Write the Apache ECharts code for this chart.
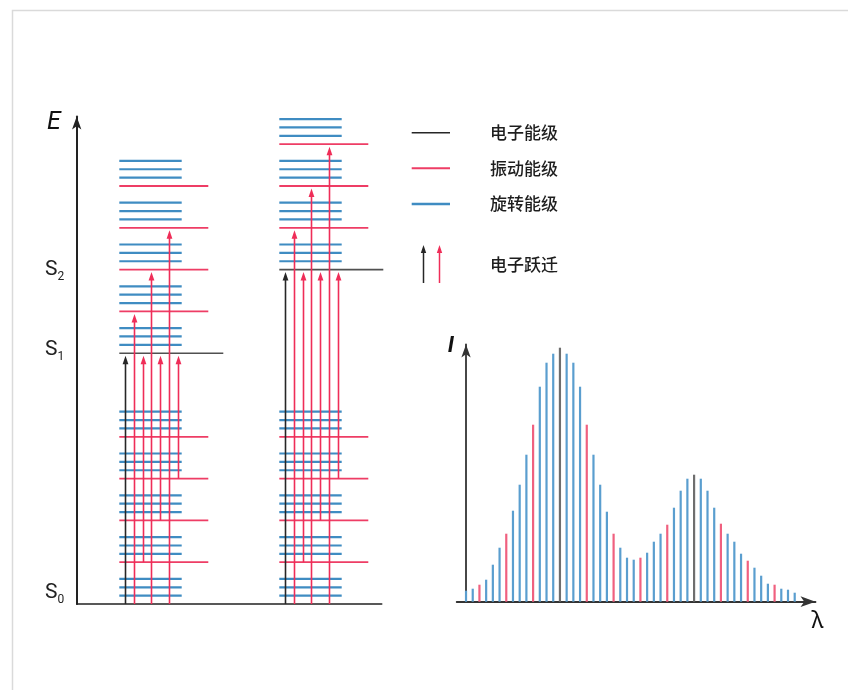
<!DOCTYPE html>
<html>
<head>
<meta charset="utf-8">
<script src="https://cdn.jsdelivr.net/npm/echarts@6/dist/echarts.min.js"></script>
<style>
  html, body { margin: 0; padding: 0; background: #ffffff; }
  #chart { width: 848px; height: 690px; }
</style>
</head>
<body>
<div id="chart"></div>
<script>
// ---- Energy-level diagram (energies in units of one rotational spacing above S0) ----
const stateNames = ['S0', 'S1', 'S2'];
const stateEnergies = [0, 30, 40];

// left column: S0 manifold and S1 manifold
const leftElectronicLevels = [30];
const leftVibrationalLevels = [5, 10, 15, 20, 35, 40, 45, 50];
const leftRotationalLevels = [1, 2, 3, 6, 7, 8, 11, 12, 13, 16, 17, 18, 21, 22, 23,
  31, 32, 33, 36, 37, 38, 41, 42, 43, 46, 47, 48, 51, 52, 53];
const leftTransitions = [[0, 30], [0, 35], [5, 30], [0, 40], [10, 30], [0, 45], [15, 30]];

// right column: S0 manifold and S2 manifold
const rightElectronicLevels = [40];
const rightVibrationalLevels = [5, 10, 15, 20, 45, 50, 55];
const rightRotationalLevels = [1, 2, 3, 6, 7, 8, 11, 12, 13, 16, 17, 18, 21, 22, 23,
  41, 42, 43, 46, 47, 48, 51, 52, 53, 56, 57, 58];
const rightTransitions = [[0, 40], [0, 45], [5, 40], [0, 50], [10, 40], [0, 55], [15, 40]];

// ---- Absorption band: relative intensity of each line ----
const spectrumIntensity = [11, 13, 17, 22, 37, 54, 68, 91, 117, 147, 177, 215, 239, 248, 254,
  248, 239, 215, 177, 147, 117, 90, 68, 54, 44, 42, 44, 49, 60, 68, 77, 94, 111, 123, 127,
  123, 111, 94, 78, 68, 60, 48, 41, 34, 26, 18, 17, 13, 12, 9];
// R = rotational line, V = vibrational line, E = electronic line
const spectrumLineType = ['R', 'R', 'V', 'R', 'R', 'R', 'V', 'R', 'R', 'R', 'V', 'R', 'R', 'R', 'E',
  'R', 'R', 'R', 'V', 'R', 'R', 'R', 'V', 'R', 'R', 'R', 'V', 'R', 'R', 'R', 'V', 'R', 'R', 'R', 'E',
  'R', 'R', 'R', 'V', 'R', 'R', 'R', 'V', 'R', 'R', 'R', 'V', 'R', 'R', 'R'];

const legendLabels = ['电子能级', '振动能级', '旋转能级', '电子跃迁'];

// ---- layout & style ----
const COLUMN_START = [42.6, 202.6];                 // x-axis units of the level diagram
const LEVEL_LENGTH = { electronic: 104, vibrational: 89, rotational: 62.4 };
const ARROW_OFFSET = [6, 14.7, 23.4, 32.1, 40.8, 49.5, 58.2];
const LABEL_NUDGE = [-11, -3, 0];
const COLOR = {
  electronic: '#505050',
  vibrational: '#ee3d65',
  rotational: '#3f8cc2',
  arrowBlack: '#262626',
  arrowRed: '#ef2d58',
  axis: '#222222'
};
const SPECTRUM_COLOR = { R: '#5a9ecf', V: '#f0607f', E: '#6e6e6e' };

function levelData(col, levels) {
  return levels.map(e => [col, e]);
}

function levelRenderer(kind, color, width) {
  return function (params, api) {
    const col = api.value(0);
    const e = api.value(1);
    const a = api.coord([COLUMN_START[col], e]);
    const b = api.coord([COLUMN_START[col] + LEVEL_LENGTH[kind], e]);
    return {
      type: 'line',
      shape: { x1: a[0], y1: a[1], x2: b[0], y2: b[1] },
      style: { stroke: color, lineWidth: width }
    };
  };
}

function transitionData(col, list, electronic) {
  return list.map((t, i) => [col, t[0], t[1], i, (t[0] === 0 && electronic.indexOf(t[1]) >= 0) ? 1 : 0]);
}

function renderTransition(params, api) {
  const col = api.value(0);
  const from = api.value(1);
  const to = api.value(2);
  const slot = api.value(3);
  const color = api.value(4) === 1 ? COLOR.arrowBlack : COLOR.arrowRed;
  const x = COLUMN_START[col] + ARROW_OFFSET[slot];
  const p0 = api.coord([x, from]);
  const p1 = api.coord([x, to]);
  const px = Math.round(p0[0]) + 0.5;
  const tip = p1[1] + 2.5;
  return {
    type: 'group',
    children: [
      { type: 'line', shape: { x1: px, y1: p0[1], x2: px, y2: tip + 6 },
        style: { stroke: color, lineWidth: 1.6 } },
      { type: 'polygon', shape: { points: [[px, tip], [px - 2.9, tip + 8.5], [px + 2.9, tip + 8.5]] },
        style: { fill: color } }
    ]
  };
}

function renderStateLabel(params, api) {
  const e = api.value(0);
  const idx = api.value(1);
  const p = api.coord([0, e]);
  const y = p[1] + LABEL_NUDGE[idx];
  return {
    type: 'group',
    children: [
      { type: 'text', x: 45, y: y,
        style: { text: stateNames[idx].charAt(0), fontSize: 21, fontFamily: 'Roboto', fill: '#222',
                 align: 'left', verticalAlign: 'middle' } },
      { type: 'text', x: 57.5, y: y + 7,
        style: { text: stateNames[idx].slice(1), fontSize: 12, fontFamily: 'Roboto', fill: '#222',
                 align: 'left', verticalAlign: 'middle' } }
    ]
  };
}

const hiddenAxisParts = {
  axisTick: { show: false },
  axisLabel: { show: false },
  splitLine: { show: false }
};

const chart = echarts.init(document.getElementById('chart'));

const legendY = [132.7, 168.3, 204, 265];
const legendGraphics = [
  { type: 'rect', shape: { x: 12.5, y: 10.5, width: 900, height: 800 },
    style: { fill: 'none', stroke: '#dadada', lineWidth: 1.5 }, silent: true },
  { type: 'line', shape: { x1: 411.7, y1: legendY[0], x2: 450, y2: legendY[0] },
    style: { stroke: COLOR.arrowBlack, lineWidth: 1.5 } },
  { type: 'line', shape: { x1: 411.7, y1: legendY[1], x2: 450, y2: legendY[1] },
    style: { stroke: COLOR.vibrational, lineWidth: 2 } },
  { type: 'line', shape: { x1: 411.7, y1: legendY[2], x2: 450, y2: legendY[2] },
    style: { stroke: COLOR.rotational, lineWidth: 2.5 } },
  { type: 'line', shape: { x1: 423.5, y1: 283, x2: 423.5, y2: 251 },
    style: { stroke: COLOR.arrowBlack, lineWidth: 1.5 } },
  { type: 'polygon', shape: { points: [[423.5, 245], [420.8, 253], [426.2, 253]] },
    style: { fill: COLOR.arrowBlack } },
  { type: 'line', shape: { x1: 439.5, y1: 283, x2: 439.5, y2: 251 },
    style: { stroke: COLOR.arrowRed, lineWidth: 1.5 } },
  { type: 'polygon', shape: { points: [[439.5, 245], [436.8, 253], [442.2, 253]] },
    style: { fill: COLOR.arrowRed } }
].concat(legendLabels.map((t, i) => ({
  type: 'text', x: 490, y: legendY[i],
  style: { text: t, fontSize: 17, fontWeight: 500, fontFamily: 'Noto Sans CJK SC', fill: '#1e1e1e',
           align: 'left', verticalAlign: 'middle' }
})));

chart.setOption({
  animation: false,
  backgroundColor: '#ffffff',
  grid: [
    { left: 76.7, right: 466.3, top: 116.6, bottom: 86 },
    { left: 456.7, right: 32.5, top: 344.5, bottom: 88.3 }
  ],
  xAxis: [
    Object.assign({ type: 'value', gridIndex: 0, min: 0, max: 305,
      axisLine: { show: true, lineStyle: { color: COLOR.axis, width: 1.6 } } }, hiddenAxisParts),
    Object.assign({ type: 'value', gridIndex: 1, min: -1.39, max: 52.1,
      name: 'λ', nameLocation: 'end', nameGap: 2,
      nameTextStyle: { fontSize: 23, fontFamily: 'Noto Sans', color: '#111',
        align: 'center', verticalAlign: 'top', padding: [8, 0, 0, 0] },
      axisLine: { show: true, symbol: ['none', 'arrow'], symbolSize: [8, 15],
        lineStyle: { color: '#333', width: 1.8 } } }, hiddenAxisParts)
  ],
  yAxis: [
    Object.assign({ type: 'value', gridIndex: 0, min: 0, max: 58.3,
      name: 'E', nameLocation: 'end', nameGap: -6,
      nameTextStyle: { fontSize: 25, fontStyle: 'italic', fontFamily: 'Roboto', color: '#111',
        align: 'right', verticalAlign: 'middle', padding: [0, 16, 0, 0] },
      axisLine: { show: true, symbol: ['none', 'arrow'], symbolSize: [7, 13],
        lineStyle: { color: COLOR.axis, width: 2 } } }, hiddenAxisParts),
    Object.assign({ type: 'value', gridIndex: 1, min: 0, max: 257.2,
      name: 'I', nameLocation: 'end', nameGap: -2,
      nameTextStyle: { fontSize: 22, fontStyle: 'italic', fontWeight: 'bold', fontFamily: 'Roboto',
        color: '#111', align: 'right', verticalAlign: 'middle', padding: [0, 12, 0, 0] },
      axisLine: { show: true, symbol: ['none', 'arrow'], symbolSize: [7, 13],
        lineStyle: { color: '#333', width: 1.8 } } }, hiddenAxisParts)
  ],
  graphic: legendGraphics,
  series: [
    { type: 'custom', name: '旋转能级', xAxisIndex: 0, yAxisIndex: 0, z: 2,
      renderItem: levelRenderer('rotational', COLOR.rotational, 2.2),
      data: levelData(0, leftRotationalLevels).concat(levelData(1, rightRotationalLevels)) },
    { type: 'custom', name: '振动能级', xAxisIndex: 0, yAxisIndex: 0, z: 3,
      renderItem: levelRenderer('vibrational', COLOR.vibrational, 1.8),
      data: levelData(0, leftVibrationalLevels).concat(levelData(1, rightVibrationalLevels)) },
    { type: 'custom', name: '电子能级', xAxisIndex: 0, yAxisIndex: 0, z: 3,
      renderItem: levelRenderer('electronic', COLOR.electronic, 1.6),
      data: levelData(0, leftElectronicLevels).concat(levelData(1, rightElectronicLevels)) },
    { type: 'custom', name: '电子跃迁', xAxisIndex: 0, yAxisIndex: 0, z: 4,
      renderItem: renderTransition,
      data: transitionData(0, leftTransitions, leftElectronicLevels)
        .concat(transitionData(1, rightTransitions, rightElectronicLevels)) },
    { type: 'custom', name: 'states', xAxisIndex: 0, yAxisIndex: 0, z: 5,
      renderItem: renderStateLabel,
      data: stateEnergies.map((e, i) => [e, i]),
      encode: { x: -1, y: 0 } },
    { type: 'bar', name: 'spectrum', xAxisIndex: 1, yAxisIndex: 1, barWidth: 2.2,
      data: spectrumIntensity.map((v, i) => ({
        value: [i, v],
        itemStyle: { color: SPECTRUM_COLOR[spectrumLineType[i]] }
      })) }
  ]
});
</script>
</body>
</html>
